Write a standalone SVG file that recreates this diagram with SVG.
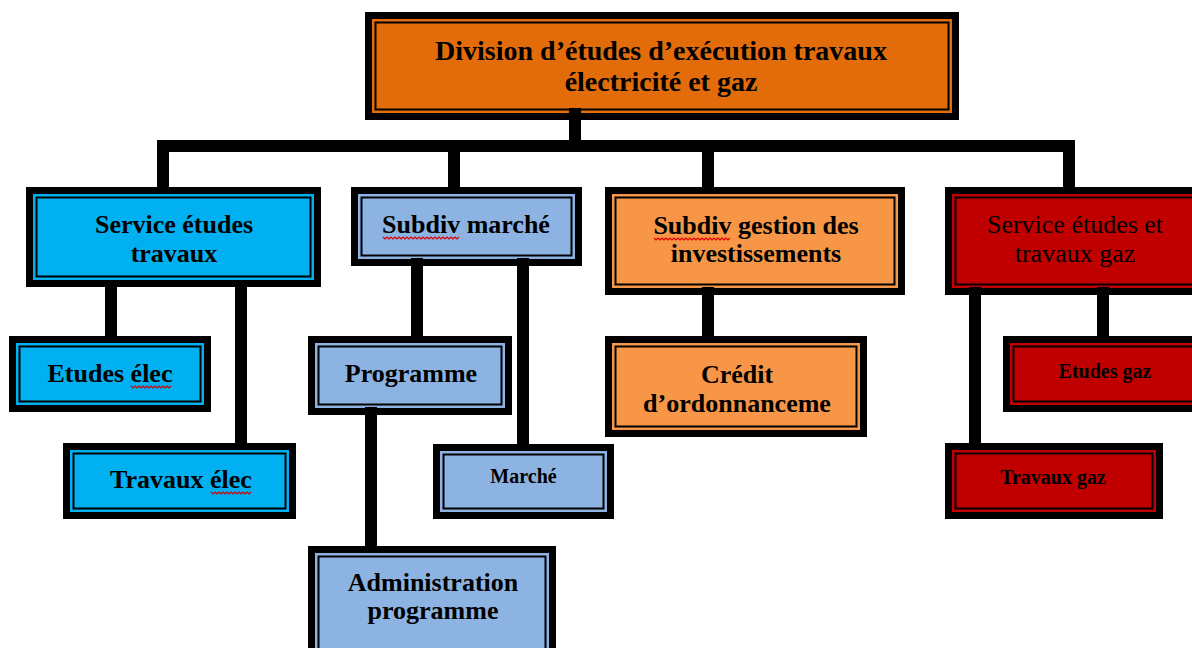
<svg xmlns="http://www.w3.org/2000/svg" width="1192" height="648" viewBox="0 0 1192 648">
<style>
.box{stroke:#000;stroke-width:7}
.inner{fill:none;stroke:#000;stroke-width:2}
.t{font-family:"Liberation Serif","Times New Roman",serif;font-weight:bold;font-size:26px;fill:#000;text-anchor:middle}
.big{font-size:28px}
.sm{font-size:20px}
.norm{font-weight:normal}
.con{stroke:#000;stroke-width:12;fill:none;stroke-linecap:butt}
.sq{fill:none;stroke:#e00000;stroke-width:1.2}
</style>
<rect width="1192" height="648" fill="#fff"/>

<g id="node-division">
<rect class="box" x="368.5" y="15.5" width="587" height="101" fill="#E36C0A"/>
<rect class="inner" x="375.5" y="22.5" width="573" height="87"/>
<text class="t big" x="661" y="60">Division d’études d’exécution travaux</text>
<text class="t big" x="661" y="91">électricité et gaz</text>
</g>

<g id="node-service-etudes-travaux">
<rect class="box" x="29.5" y="190.5" width="288" height="93" fill="#00B0F0"/>
<rect class="inner" x="36.5" y="197.5" width="274" height="79"/>
<text class="t" x="174" y="233">Service études</text>
<text class="t" x="174" y="262">travaux</text>
</g>

<g id="node-subdiv-marche">
<rect class="box" x="354.5" y="190.5" width="224" height="72" fill="#8DB3E2"/>
<rect class="inner" x="361.5" y="197.5" width="210" height="58"/>
<text class="t" x="466" y="233">Subdiv marché</text>
<path class="sq" d="M383 237 l2 2 l2 -2 l2 2 l2 -2 l2 2 l2 -2 l2 2 l2 -2 l2 2 l2 -2 l2 2 l2 -2 l2 2 l2 -2 l2 2 l2 -2 l2 2 l2 -2 l2 2 l2 -2 l2 2 l2 -2 l2 2 l2 -2 l2 2 l2 -2 l2 2 l2 -2 l2 2 l2 -2 l2 2 l2 -2 l2 2 l2 -2 l2 2 l2 -2 l2 2 l2 -2"/>
</g>

<g id="node-subdiv-gestion">
<rect class="box" x="608.5" y="190.5" width="293" height="101" fill="#F79646"/>
<rect class="inner" x="615.5" y="197.5" width="279" height="87"/>
<text class="t" x="756" y="234">Subdiv gestion des</text>
<text class="t" x="756" y="262">investissements</text>
<path class="sq" d="M654 238 l2 2 l2 -2 l2 2 l2 -2 l2 2 l2 -2 l2 2 l2 -2 l2 2 l2 -2 l2 2 l2 -2 l2 2 l2 -2 l2 2 l2 -2 l2 2 l2 -2 l2 2 l2 -2 l2 2 l2 -2 l2 2 l2 -2 l2 2 l2 -2 l2 2 l2 -2 l2 2 l2 -2 l2 2 l2 -2 l2 2 l2 -2 l2 2 l2 -2 l2 2 l2 -2"/>
</g>

<g id="node-service-gaz">
<rect class="box" x="948.5" y="190.5" width="260" height="101" fill="#C00000"/>
<rect class="inner" x="955.5" y="197.5" width="246" height="87"/>
<text class="t norm" x="1075" y="233">Service études et</text>
<text class="t norm" x="1075" y="262">travaux gaz</text>
</g>

<g id="node-etudes-elec">
<rect class="box" x="12.5" y="339.5" width="195" height="69" fill="#00B0F0"/>
<rect class="inner" x="19.5" y="346.5" width="181" height="55"/>
<text class="t" x="110" y="382">Etudes élec</text>
<path class="sq" d="M131 386 l2 2 l2 -2 l2 2 l2 -2 l2 2 l2 -2 l2 2 l2 -2 l2 2 l2 -2 l2 2 l2 -2 l2 2 l2 -2 l2 2 l2 -2 l2 2 l2 -2 l2 2 l2 -2"/>
</g>

<g id="node-travaux-elec">
<rect class="box" x="66.5" y="446.5" width="226" height="69" fill="#00B0F0"/>
<rect class="inner" x="73.5" y="453.5" width="212" height="55"/>
<text class="t" x="181" y="488">Travaux élec</text>
<path class="sq" d="M211 492 l2 2 l2 -2 l2 2 l2 -2 l2 2 l2 -2 l2 2 l2 -2 l2 2 l2 -2 l2 2 l2 -2 l2 2 l2 -2 l2 2 l2 -2 l2 2 l2 -2 l2 2 l2 -2"/>
</g>

<g id="node-programme">
<rect class="box" x="311.5" y="339.5" width="197" height="72" fill="#8DB3E2"/>
<rect class="inner" x="318.5" y="346.5" width="183" height="58"/>
<text class="t" x="411" y="382">Programme</text>
</g>

<g id="node-marche">
<rect class="box" x="436.5" y="447.5" width="174" height="68" fill="#8DB3E2"/>
<rect class="inner" x="443.5" y="454.5" width="160" height="54"/>
<text class="t sm" x="523.5" y="483">Marché</text>
</g>

<g id="node-administration-programme">
<rect class="box" x="311.5" y="549.5" width="241" height="110" fill="#8DB3E2"/>
<rect class="inner" x="318.5" y="556.5" width="227" height="96"/>
<text class="t" x="433" y="591">Administration</text>
<text class="t" x="433" y="619">programme</text>
</g>

<g id="node-credit">
<rect class="box" x="608.5" y="339.5" width="255" height="94" fill="#F79646"/>
<rect class="inner" x="615.5" y="346.5" width="241" height="80"/>
<text class="t" x="737" y="383">Crédit</text>
<text class="t" x="737" y="412">d’ordonnanceme</text>
</g>

<g id="node-etudes-gaz">
<rect class="box" x="1006.5" y="339.5" width="200" height="69" fill="#C00000"/>
<rect class="inner" x="1013.5" y="346.5" width="186" height="55"/>
<text class="t sm" x="1105" y="378">Etudes gaz</text>
</g>

<g id="node-travaux-gaz">
<rect class="box" x="948.5" y="446.5" width="211" height="69" fill="#C00000"/>
<rect class="inner" x="955.5" y="453.5" width="197" height="55"/>
<text class="t sm" x="1053" y="484">Travaux gaz</text>
</g>

<g id="connectors">
<path class="con" d="M575 108 V146"/>
<path class="con" d="M157 146 H1075"/>
<path class="con" d="M163 140 V188"/>
<path class="con" d="M454 140 V188"/>
<path class="con" d="M708 140 V188"/>
<path class="con" d="M1069 140 V188"/>
<path class="con" d="M111 280 V337"/>
<path class="con" d="M241 280 V444"/>
<path class="con" d="M417 258 V337"/>
<path class="con" d="M523 258 V445"/>
<path class="con" d="M371 407 V547"/>
<path class="con" d="M708 287 V337"/>
<path class="con" d="M975 287 V444"/>
<path class="con" d="M1103 287 V337"/>
</g>
</svg>
